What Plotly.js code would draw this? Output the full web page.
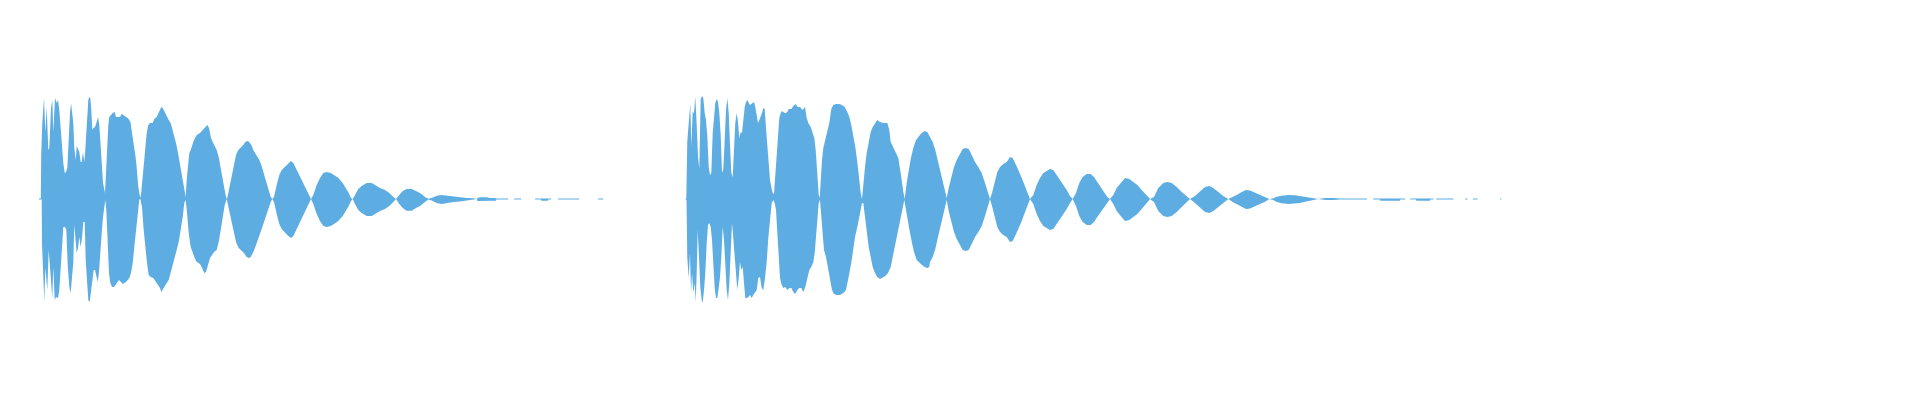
<!DOCTYPE html>
<html>
<head>
<meta charset="utf-8">
<script src="https://cdn.plot.ly/plotly-3.0.1.min.js"></script>
<style>
  html, body { margin: 0; padding: 0; background: #ffffff; }
  #myDiv { width: 1920px; height: 400px; }
</style>
</head>
<body>
<div id="myDiv"></div>
<script>
// waveform envelopes: [sample, amplitude]
// upper = above the centre line, lower = depth below it
var wave1Upper = [
  [38.8,0],[39,0.5],[40.8,0.5],[41.2,44],[42.3,76],[44,101],[45.3,67],[46.7,92],[48.3,49],[49.3,51],
  [51,91],[52.3,99],[53.3,67],[55,101],[56.7,96],[58,99],[59.3,89],[60.7,69],[62,47],[63.3,36],
  [64.7,26],[66,27],[67.3,31],[68.7,64],[70,86],[71,96],[72,86],[73.3,76],[74.3,51],[75.7,39],
  [76.7,53],[78,49],[79.3,47],[80.7,37],[81.7,37],[83,47],[84.3,37],[85.3,49],[86.3,64],[87.3,86],
  [88.3,99],[89.3,102],[90.3,101],[91.3,89],[92.3,69],[93.3,71],[95,72],[96.7,77],[98,82],[99.3,74],
  [100.7,56],[102,32],[103,16],[104,11],[105,6],[106,26],[107.3,62],[108.3,74],[109.3,82],[110.7,84],
  [112.7,86],[114.7,87],[116,82],[117.7,82],[120,82],[121.7,85],[123.3,84],[125.7,82],[127.7,81],[129.3,79],
  [130.7,76],[132,66],[133.7,56],[135,46],[136.3,36],[137.3,22],[138.3,12],[139.3,6],[140.3,1],[141.3,7],
  [142.3,19],[143.7,32],[145.3,51],[146.7,66],[148.3,74],[150,76],[152.7,76],[154.3,80],[156.7,82],[159.3,87],
  [161.3,92],[162.7,91],[164.7,87],[166.7,82],[168.7,79],[170.7,76],[172.7,69],[174.3,62],[176,56],[178,46],
  [180,34],[181.7,22],[183.3,12],[184.7,4],[185.7,2],[186.7,19],[188,32],[189.3,46],[190.7,49],[192.3,54],
  [194,59],[196.7,64],[200,66],[202.7,69],[205.3,72],[207.3,74],[209,71],[211,61],[212.7,57],[214.3,54],
  [216.7,49],[218.7,42],[220.3,32],[222.3,22],[224.3,11],[226,2],[227,0],[228.3,6],[230.3,16],[232.3,26],
  [234.3,36],[236,44],[238.3,49],[240.7,51],[243.3,54],[245.3,57],[247.3,58],[249.3,57],[251.3,54],[253.3,49],
  [255.3,46],[257.3,42],[259.3,39],[261.3,34],[263.3,27],[265.3,19],[267.3,12],[269.3,6],[270.7,2],[272.3,0],
  [274,2],[276.7,14],[279.3,24],[281.7,29],[285,32],[288.3,36],[291,38],[293.3,36],[296.7,29],[300,22],
  [303.3,16],[306.7,9],[309.3,3],[311,0],[313.3,4],[316.7,14],[320,21],[323.3,26],[326.7,27],[330.7,26],
  [334,24],[338.3,21],[342.7,16],[346,11],[348.7,6],[351,1],[352.7,0],[355,4],[358.3,10],[361.7,13],
  [366.7,16],[371.7,16],[376,13],[380,11],[385,9],[389.3,6],[393.3,2],[396,0],[399.3,4],[402.7,8],
  [406.7,10],[411.7,10],[416,8],[420,6],[425,2],[428.3,0.3],[431.7,1],[436.7,3.3],[441.7,4],[446.7,3.3],
  [453.3,2.3],[460,1.7],[466.7,1],[473.3,0.7],[476.4,0],[477,0],[477.3,1],[480,1.7],[486.7,1.7],[490,1],
  [495,1],[496,0.5],[508,0.5],[508.3,0],[514,0],[514.3,0.5],[521,0.5],[521.3,0],[535,0],[535.3,0.5],
  [551,0.5],[551.3,0],[558,0],[558.3,0.5],[579,0.5],[579.3,0],[598,0],[598.3,0.5],[603,0.5],[603.3,0]
];
var wave1Lower = [
  [38.8,0],[39,0.5],[41.7,0.5],[42,44],[43.3,78],[44.3,103],[45.3,69],[46.3,78],[47.3,91],[48.7,51],
  [50,68],[51.3,91],[52.3,99],[53.3,68],[54.7,101],[56,98],[58,99],[59.3,91],[60.7,69],[62,49],
  [63.3,28],[65,28],[66.3,31],[67.7,66],[69.3,88],[70.7,94],[72,78],[73.3,63],[74.3,26],[75.7,43],
  [76.7,54],[78,49],[79.3,38],[80.7,48],[82,39],[83.3,23],[84.7,23],[85.7,61],[87,88],[88.3,101],
  [89.7,103],[91,91],[92.3,81],[93.7,71],[95,71],[96.3,78],[97.7,83],[99,73],[100.3,58],[101.7,34],
  [103,18],[104.3,4],[105.3,1],[106.3,11],[107.7,41],[109,74],[110.3,84],[112,88],[114,88],[115.7,86],
  [117.3,83],[119,81],[121,83],[122.7,85],[124.3,84],[126,83],[127.7,81],[129.3,79],[131,74],[132.7,64],
  [134.3,48],[136,31],[137.7,11],[139.3,0.5],[140.3,0],[142,8],[143.7,31],[145.3,51],[147,64],[148.7,76],
  [150.7,78],[153.3,79],[155.7,83],[158.3,86],[160,89],[161.3,93],[162.7,91],[164.7,88],[166.7,84],[168.7,81],
  [170.7,74],[172.7,66],[174.7,58],[176.7,51],[178.7,43],[180.7,31],[182.7,18],[184.3,4],[185.7,1],[187,14],
  [188.7,34],[190.7,48],[192.7,54],[194.7,59],[196.7,63],[198.7,64],[200.7,66],[202.7,71],[204.3,74],[206,73],
  [208,66],[210,59],[212,56],[214,53],[216.7,51],[218.7,43],[220.7,31],[222.7,18],[224.7,6],[226.7,0],
  [228.7,9],[230.7,21],[233.3,31],[236,43],[238.7,49],[241.3,51],[244,54],[246.7,58],[248.7,59],[250.7,58],
  [253.3,53],[256,46],[258.7,39],[261.3,31],[264,23],[266.7,14],[269.3,6],[270.7,3],[272.3,0],[274,3],
  [276.7,15],[279.3,25],[281.7,30],[285,34],[288.3,37],[291,39],[293.3,37],[296.7,30],[300,23],[303.3,17],
  [306.7,10],[309.3,4],[311,0],[313.3,5],[316.7,15],[320,22],[323.3,27],[326.7,28],[330.7,27],[334,25],
  [338.3,22],[342.7,17],[346,12],[348.7,7],[351,2],[352.7,0],[355,5],[358.3,11],[361.7,14],[366.7,17],
  [371.7,17],[376,14],[380,12],[385,10],[389.3,7],[393.3,3],[396,0],[399.3,5],[402.7,9],[406.7,11.7],
  [411.7,11.7],[416,9],[420,7],[425,3],[428.3,0.5],[431.7,1.5],[436.7,4],[441.7,5],[446.7,4],[453.3,3],
  [460,2.5],[466.7,1.7],[473.3,1],[476.4,0],[477,0],[477.3,2],[486.7,2.3],[490,1.7],[496,1.7],[496.3,0.5],
  [508,0.5],[508.3,0],[514,0],[514.3,0.5],[521,0.5],[521.3,0],[535,0],[535.3,0.5],[541,0.5],[541.3,1.7],
  [548,1.7],[548.3,0.5],[551,0.5],[551.3,0],[558,0],[558.3,0.5],[579,0.5],[579.3,0],[598,0],[598.3,0.5],
  [603,0.5],[603.3,0]
];
var wave2Upper = [
  [685.3,0],[685.5,0.5],[686.3,0.7],[687.3,58],[688.3,72],[689.3,78],[690.3,95],[691.3,53],[692.7,87],[694,86],
  [695.3,102],[696.7,74],[698,43],[699.3,30],[700.7,100],[702,103],[703.3,101],[704.7,86],[706,79],[707.3,63],
  [708.7,32],[710,24],[711.3,26],[712.7,66],[714,86],[715.3,96],[716.7,100],[718,97],[719.3,86],[720.7,64],
  [722,26],[723.3,30],[724.7,59],[726,89],[727.3,101],[728.7,86],[730,54],[731.3,26],[732.7,22],[734,51],
  [735.3,76],[736.7,86],[738,77],[739.3,61],[740.7,67],[742,66],[743.3,81],[744.7,92],[746,97],[747.3,99],
  [748.7,96],[750,94],[751.3,95],[752.7,96],[754,97],[755.3,92],[756.7,84],[758,76],[759.3,79],[760.7,82],
  [762,86],[763.3,91],[764.7,90],[766,71],[767.3,52],[768.7,34],[770,19],[771.3,12],[772.7,6],[774,5],
  [775.3,24],[776.7,51],[778,66],[779.3,81],[780.7,86],[782,88],[783.3,87],[784.7,86],[786,86],[787.3,87],
  [788.7,90],[790,90],[791.3,90],[793.3,93],[795.7,95],[797.7,92],[800,92],[802.7,89],[805,92],[806.7,81],
  [808.3,76],[810.7,72],[812.7,67],[814.3,61],[815.7,49],[816.7,29],[817.7,16],[818.7,4],[819.7,1],[820.7,19],
  [822,39],[823.3,51],[825.3,59],[827.3,67],[829.3,76],[831.3,90],[833.3,94],[836,95],[839.3,95],[842,94],
  [844.7,92],[847.3,87],[849.3,82],[851.3,74],[853.3,64],[855.3,52],[857.3,37],[859,19],[860.7,6],[862,0],
  [863.3,16],[865,32],[866.7,46],[868.7,57],[870.7,67],[872.7,72],[875,76],[877.3,79],[880,77],[883.3,76],
  [887.3,76],[889.3,69],[890.7,57],[892,54],[894,49],[896,46],[898.3,41],[900,32],[901.7,19],[903.3,7],
  [904.7,0],[906.7,16],[908.7,29],[910.7,40],[913.3,51],[916,59],[918.3,62],[921.7,66],[925,68],[927.3,67],
  [930,62],[932.7,57],[935.3,49],[938,37],[940.7,26],[942.7,19],[944.7,9],[946.7,1],[948.7,11],[951.3,22],
  [954,32],[956.7,39],[960,46],[962.7,50],[965.7,51],[968.7,50],[971.7,44],[975,37],[978.3,32],[981.7,26],
  [985,16],[988.3,4],[990,0],[992,6],[994.7,17],[997.3,27],[1000,32],[1003.3,35],[1006.7,37],[1010,42],
  [1012.7,41],[1015.3,36],[1018.3,29],[1021.7,21],[1025,12],[1027.7,6],[1030,0],[1033.3,4],[1036.7,14],[1040,21],
  [1043.3,26],[1046.7,28],[1050,30],[1053.3,29],[1056.7,24],[1060,19],[1063.3,14],[1066.7,9],[1070,3],[1072.7,0],
  [1076,6],[1079.3,16],[1082.7,22],[1086.7,25],[1090.7,25],[1094,22],[1097.3,17],[1100.7,12],[1104,7],[1107.3,2],
  [1110,0],[1113.3,4],[1116.7,11],[1120.7,16],[1125,21],[1129.3,20],[1133.3,17],[1137.3,14],[1141.7,9],[1146,4],
  [1150,0],[1154,2],[1158.3,11],[1163.3,16],[1167.3,17],[1171.7,16],[1176.7,12],[1181.7,7],[1186,3],[1190,0],
  [1195,3],[1200,8],[1205,12],[1209.3,13],[1213.3,11],[1218.3,7],[1223.3,3],[1228.3,0],[1232.7,2],[1236.7,4],
  [1241.7,7],[1246,9],[1250,8.5],[1255,6.3],[1260,4],[1265,1.7],[1269.3,0],[1273.3,0.7],[1276.7,2.3],[1281.7,3.3],
  [1288.3,4],[1295,3.7],[1300,3],[1305,1.7],[1310,1],[1315,0.7],[1318.3,0],[1321.7,0.5],[1326,1],[1333.3,1],
  [1340,0.5],[1366.7,0.5],[1367,0],[1373,0],[1373.3,0.5],[1405,0.5],[1405.3,0],[1410,0],[1410.3,0.5],[1433.3,0.5],
  [1433.6,0],[1436,0],[1436.3,0.5],[1453.3,0.5],[1453.6,0],[1465,0],[1465.3,0.5],[1467.3,0.5],[1467.6,0],[1472.7,0],
  [1473,0.5],[1477.3,0.5],[1477.6,0],[1500,0],[1500.3,0.5],[1501.3,0.5],[1501.6,0]
];
var wave2Lower = [
  [685.3,0],[685.5,0.5],[686.5,1],[687.3,59],[688.7,79],[690,54],[691,94],[692,74],[693.3,94],[694.7,84],
  [695.7,103],[696.7,74],[697.7,31],[699,58],[700.3,88],[701.7,101],[702.7,104],[704,91],[705.3,74],[706.7,44],
  [708,26],[709.3,24],[710.7,28],[712,41],[713.3,68],[714.7,89],[716,99],[717.3,99],[718.7,89],[720,78],
  [721.3,58],[722.7,28],[724,41],[725.3,68],[726.7,91],[728,101],[729.3,84],[730.7,53],[732,24],[733.3,39],
  [734.7,61],[736,79],[737.3,91],[738.7,79],[740,63],[741.3,71],[742.7,68],[744,84],[745.3,99],[746.7,99],
  [748.3,98],[750,96],[751.7,99],[753.3,96],[755,93],[756.7,91],[758.3,79],[760,78],[761.7,89],[763.3,91],
  [765,79],[766.7,63],[768.3,39],[770,19],[771.7,4],[773.3,1],[774.7,4],[776,11],[777.3,34],[778.7,54],
  [780,79],[781.7,86],[783.3,89],[785.3,88],[787.3,91],[789.3,89],[791.3,89],[793.3,93],[795.3,95],[797.3,91],
  [799.3,89],[801.3,89],[803.3,93],[805.3,88],[807.3,79],[809.3,71],[811.3,68],[813.3,63],[814.7,54],[816,38],
  [817.3,18],[818.7,4],[820,1],[821.3,21],[822.7,41],[824,51],[826,58],[828,69],[830,83],[832,91],
  [834,95],[836.7,96],[840,96],[843.3,94],[846,91],[848.3,81],[850,71],[851.7,61],[853.3,48],[855,38],
  [857.3,28],[860,14],[862,4],[863.3,4],[865,18],[866.7,34],[868.7,48],[870.7,58],[872.7,68],[875,74],
  [877.3,78],[880,80],[882.7,78],[885.3,77],[888,74],[890.7,68],[892.7,58],[894.7,48],[896.7,39],[898.7,31],
  [900.7,21],[902.7,9],[904.3,1],[906,11],[908,24],[910,34],[912,44],[914,53],[916.7,61],[919.3,64],
  [922,66],[924.7,68],[927.3,69],[929.3,68],[930,63],[932.7,58],[935.3,50],[938,38],[940.7,27],[942.7,20],
  [944.7,10],[946.7,1],[948.7,12],[951.3,23],[954,33],[956.7,40],[960,47],[962.7,51],[965.7,52],[968.7,51],
  [971.7,45],[975,38],[978.3,33],[981.7,27],[985,17],[988.3,5],[990,0],[992,7],[994.7,18],[997.3,28],
  [1000,33],[1003.3,36],[1006.7,38],[1010,43],[1012.7,42],[1015.3,37],[1018.3,30],[1021.7,22],[1025,13],[1027.7,7],
  [1030,0],[1033.3,5],[1036.7,15],[1040,22],[1043.3,27],[1046.7,29],[1050,31],[1053.3,30],[1056.7,25],[1060,20],
  [1063.3,15],[1066.7,10],[1070,4],[1072.7,0],[1076,7],[1079.3,17],[1082.7,23],[1086.7,26],[1090.7,26],[1094,23],
  [1097.3,18],[1100.7,13],[1104,8],[1107.3,3],[1110,0],[1113.3,5],[1116.7,12],[1120.7,17],[1125,22],[1129.3,21],
  [1133.3,18],[1137.3,15],[1141.7,10],[1146,5],[1150,0],[1154,3],[1158.3,12],[1163.3,17],[1167.3,18],[1171.7,17],
  [1176.7,13],[1181.7,8],[1186,4],[1190,0],[1195,4],[1200,9],[1205,13],[1209.3,14],[1213.3,12],[1218.3,8],
  [1223.3,4],[1228.3,0],[1232.7,3],[1236.7,5],[1241.7,8],[1246,10],[1250,9.5],[1255,7.3],[1260,5],[1265,2.7],
  [1269.3,0],[1273.3,1],[1276.7,3],[1281.7,4.3],[1288.3,5],[1295,4.7],[1300,4],[1305,2.7],[1310,1.7],[1315,1],
  [1318.3,0],[1321.7,0.5],[1326,1],[1333.3,1],[1340,0.5],[1366.7,0.5],[1367,0],[1373,0],[1373.3,0.5],[1380,0.5],
  [1380.3,1.7],[1400,1.7],[1400.3,0.5],[1405,0.5],[1405.3,0],[1410,0],[1410.3,0.5],[1416,0.5],[1416.3,1.7],[1430,1.7],
  [1430.3,0.5],[1433.3,0.5],[1433.6,0],[1436,0],[1436.3,0.5],[1453.3,0.5],[1453.6,0],[1465,0],[1465.3,0.5],[1467.3,0.5],
  [1467.6,0],[1472.7,0],[1473,0.5],[1477.3,0.5],[1477.6,0],[1500,0],[1500.3,0.5],[1501.3,0.5],[1501.6,0]
];

var waveColor = '#5dade2';

function envelope(points, sign){
    return {
        x: points.map(function(p){ return p[0]; }),
        y: points.map(function(p){ return sign * p[1]; }),
        type: 'scatter',
        mode: 'lines',
        line: {width: 0, color: waveColor},
        fill: 'tozeroy',
        fillcolor: waveColor,
        hoverinfo: 'skip',
        showlegend: false
    };
}

var data = [
    envelope(wave1Upper, 1),
    envelope(wave1Lower, -1),
    envelope(wave2Upper, 1),
    envelope(wave2Lower, -1)
];

var layout = {
    width: 1920,
    height: 400,
    margin: {l: 0, r: 0, t: 0, b: 0},
    paper_bgcolor: '#ffffff',
    plot_bgcolor: '#ffffff',
    showlegend: false,
    xaxis: {range: [0, 1920], visible: false, fixedrange: true},
    yaxis: {range: [-201, 199], visible: false, fixedrange: true}
};

Plotly.newPlot('myDiv', data, layout, {displayModeBar: false, staticPlot: true});
</script>
</body>
</html>
